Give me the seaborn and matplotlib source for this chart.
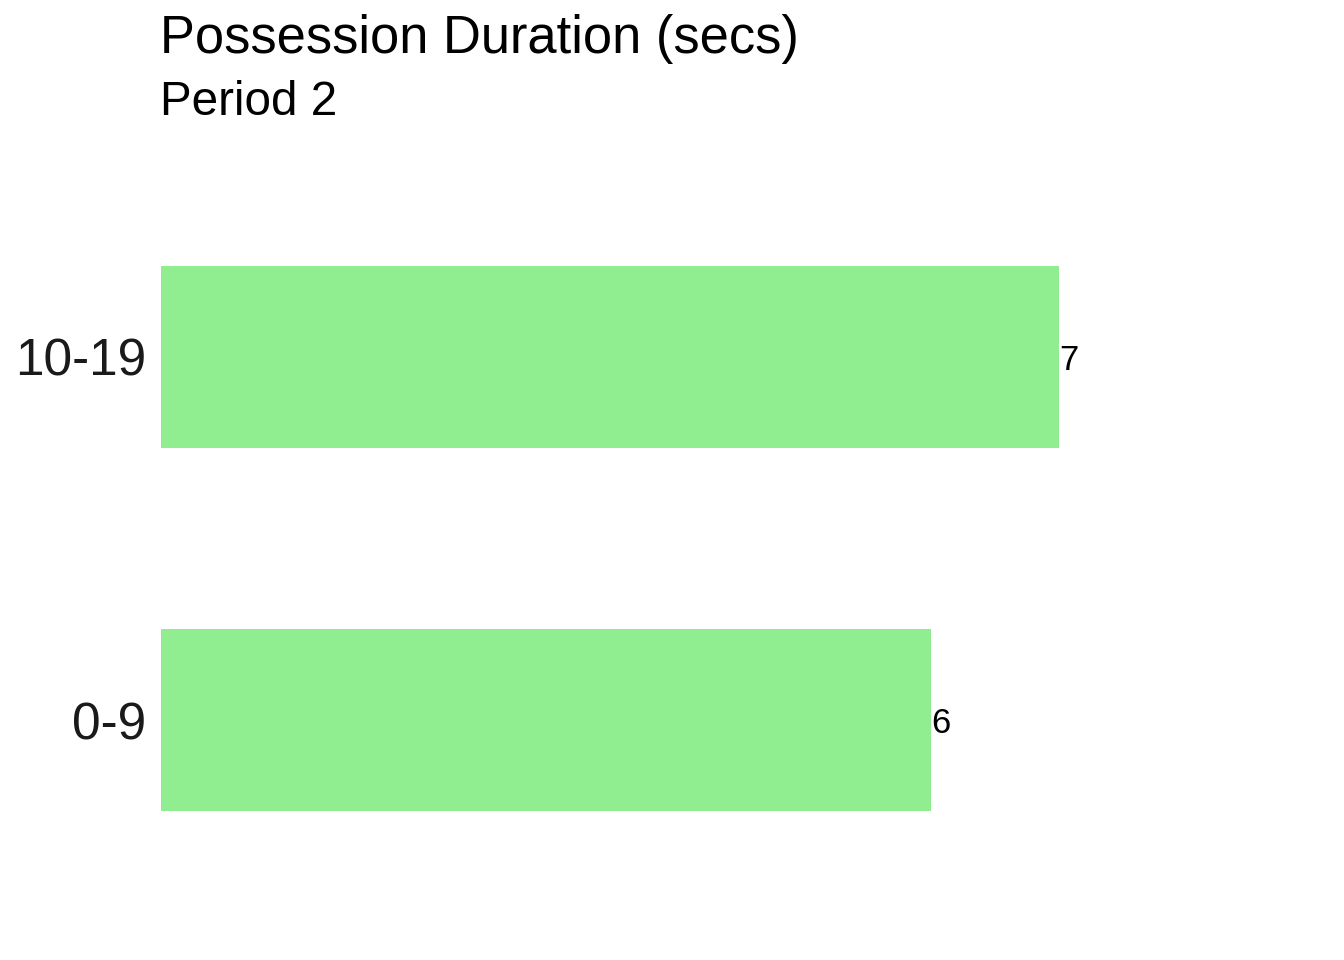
import matplotlib
matplotlib.use("Agg")
import matplotlib.pyplot as plt
import seaborn as sns
import pandas as pd

categories = ["10-19", "0-9"]
values = [7, 6]
title = "Possession Duration (secs)"
subtitle = "Period 2"

sns.set_theme(style="white")
plt.rcParams["font.family"] = ["Liberation Sans", "DejaVu Sans"]

df = pd.DataFrame({"bucket": categories, "count": values})

W, H = 1344, 960
fig = plt.figure(figsize=(W / 100, H / 100), dpi=100)
left_px, right_px = 161.2, 1334
top_px, bot_px = 139.2, 937.8
ax = fig.add_axes([left_px / W, (H - bot_px) / H, (right_px - left_px) / W, (bot_px - top_px) / H])

sns.barplot(data=df, x="count", y="bucket", order=categories, color="#90EE90",
            saturation=1, width=0.5, orient="h", linewidth=0, ax=ax)
ax.set_xlim(0, (right_px - left_px) / 128.3)
ax.set_ylim(1.6, -0.6)

for c in ax.containers:
    texts = ax.bar_label(c, labels=[str(v) for v in values], padding=0, fontsize=25,
                         color="black")
    for t in texts:
        t.set_va("center_baseline")

ax.set_xlabel("")
ax.set_ylabel("")
ax.set_xticks([])
ax.tick_params(axis="y", length=0, pad=10.8, labelsize=37, labelcolor="#1a1a1a")
for s in ax.spines.values():
    s.set_visible(False)
ax.grid(False)

fig.text(160 / W, 1 - 53 / H, title, fontsize=37.8, va="baseline", ha="left", color="black")
fig.text(160 / W, 1 - 115 / H, subtitle, fontsize=34.3, va="baseline", ha="left", color="black")

fig.savefig("out.png", dpi=100)
